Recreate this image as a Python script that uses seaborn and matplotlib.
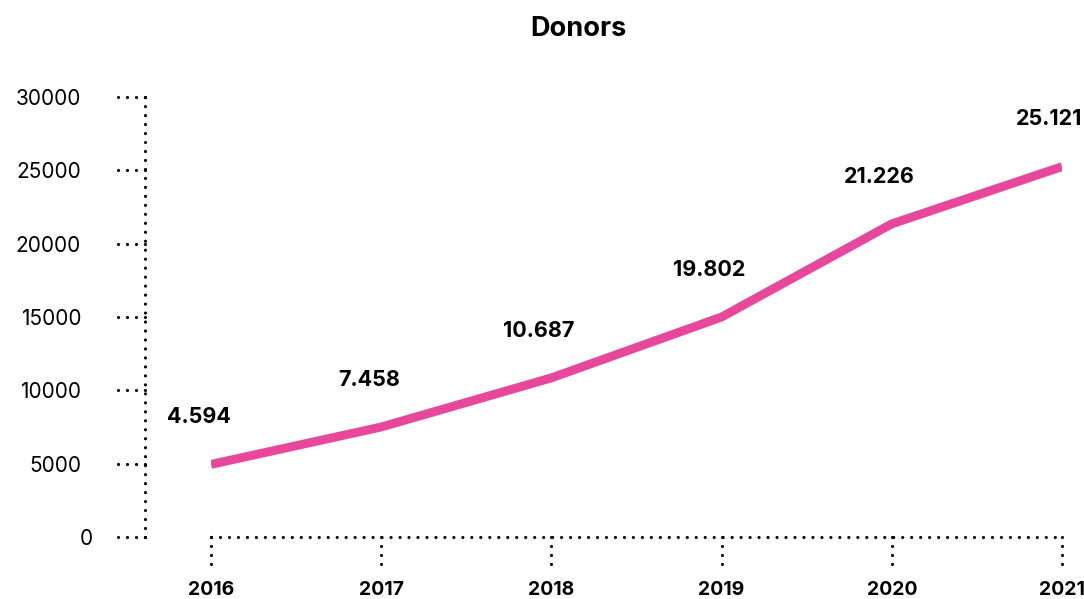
import matplotlib
matplotlib.use("Agg")
import matplotlib.pyplot as plt
import matplotlib.transforms as mtransforms
import seaborn as sns
import pandas as pd

# Data (line heights as drawn, labels as printed)
years = [2016, 2017, 2018, 2019, 2020, 2021]
donors = [4950, 7500, 10850, 15000, 21350, 25250]
point_labels = ["4.594", "7.458", "10.687", "19.802", "21.226", "25.121"]
y_ticks = [0, 5000, 10000, 15000, 20000, 25000, 30000]

LINE_COLOR = "#E8489C"
W, H = 1084, 599

sns.set_theme(style="white")
plt.rcParams["font.family"] = ["Inter", "DejaVu Sans"]
plt.rcParams["text.color"] = "black"

df = pd.DataFrame({"Year": years, "Donors": donors})

fig = plt.figure(figsize=(W / 100, H / 100), dpi=100)
ax = fig.add_axes([211 / W, (H - 537) / H, (1062 - 211) / W, (537 - 97) / H])

sns.lineplot(data=df, x="Year", y="Donors", ax=ax, color=LINE_COLOR,
             linewidth=6.4, solid_capstyle="butt", solid_joinstyle="miter")

ax.set_xlim(years[0], years[-1])
ax.set_ylim(y_ticks[0], y_ticks[-1])
ax.set_xlabel("")
ax.set_ylabel("")

# dotted axis lines
dot = dict(linestyle=(0, (0.01, 2.8)), linewidth=2.3, color="black",
           dash_capstyle="round")
for side in ["top", "right"]:
    ax.spines[side].set_visible(False)
for side in ["left", "bottom"]:
    sp = ax.spines[side]
    sp.set_linestyle((0, (0.01, 2.8)))
    sp.set_linewidth(2.3)
    sp.set_color("black")
    sp.set_capstyle("round")
ax.spines["left"].set_position(("outward", 66 * 0.72))

ax.set_xticks(years)
ax.set_xticklabels([str(y) for y in years], fontsize=14, fontweight="bold",
                   color="black")
ax.set_yticks(y_ticks)
ax.set_yticklabels([str(v) for v in y_ticks], fontsize=15, color="black")
ax.tick_params(axis="x", length=0, pad=32)
ax.tick_params(axis="y", length=0, pad=46)

# the "0" label sits a bit further right in the original
zero_lab = ax.get_yticklabels()[0]
zero_lab.set_transform(zero_lab.get_transform()
                       + mtransforms.ScaledTranslation(0.12, 0, fig.dpi_scale_trans))

# dotted tick marks
ytrans = mtransforms.blended_transform_factory(fig.transFigure, ax.transData)
for v in y_ticks:
    ax.plot([118 / W, 145 / W], [v, v], transform=ytrans, clip_on=False, **dot)
xtrans = mtransforms.blended_transform_factory(ax.transData, fig.transFigure)
for yr in years:
    ax.plot([yr, yr], [(H - 537) / H, (H - 566) / H], transform=xtrans,
            clip_on=False, **dot)

# value labels
for yr, v, lab in zip(years, donors, point_labels):
    ax.annotate(lab, (yr, v), xytext=(-9, 34), textcoords="offset points",
                ha="center", va="center", fontsize=15.5, fontweight="bold",
                color="black", annotation_clip=False)

fig.text(578 / W, 1 - 29 / H, "Donors", ha="center", va="center",
         fontsize=19.5, fontweight="bold", color="black")

fig.savefig("out.png", dpi=100)
